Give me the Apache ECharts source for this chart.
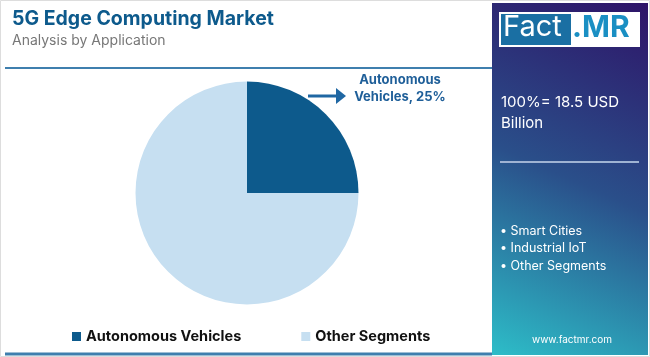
<!DOCTYPE html>
<html><head><meta charset="utf-8">
<script src="https://cdn.jsdelivr.net/npm/echarts@6/dist/echarts.min.js"></script>
<style>html,body{margin:0;padding:0;background:#fff}#c{width:650px;height:357px}</style>
</head><body><div id="c"></div>
<script>
const categories = ["Autonomous Vehicles", "Other Segments"];
const shares = [25, 75];
const colors = ["#0d5a8c", "#c6dff1"];
const panelTotal = "100%= 18.5 USD\nBillion";
const panelBullets = ["• Smart Cities", "• Industrial IoT", "• Other Segments"];
const titleText = "5G Edge Computing Market";
const subtitleText = "Analysis by Application";
const calloutText = "Autonomous\nVehicles, 25%";
const FONT = "Inter, 'Noto Sans', sans-serif";

const chart = echarts.init(document.getElementById('c'), null, {renderer: 'canvas'});
chart.setOption({
  animation: false,
  title: {
    text: titleText, subtext: subtitleText, left: 7, top: 4, itemGap: 5,
    textStyle: {fontFamily: FONT, fontSize: 19.5, fontWeight: 'bold', color: '#0d5a8c'},
    subtextStyle: {fontFamily: FONT, fontSize: 14, color: '#777'}
  },
  legend: {
    data: categories, left: 67, top: 324, itemWidth: 9, itemHeight: 9, itemGap: 60,
    icon: 'rect',
    textStyle: {fontFamily: FONT, fontSize: 14.5, fontWeight: 'bold', color: '#111'}
  },
  graphic: [
    {type: 'rect', shape: {x: 0.5, y: 0.5, width: 649, height: 356}, style: {fill: 'none', stroke: '#ddd', lineWidth: 1}, z: -1},
    {type: 'line', shape: {x1: 5, y1: 68, x2: 492, y2: 68}, style: {stroke: '#3f7fae', lineWidth: 2}},
    {type: 'line', shape: {x1: 5, y1: 354, x2: 492, y2: 354}, style: {stroke: '#3f7fae', lineWidth: 3}},
    {type: 'rect', shape: {x: 492, y: 3, width: 156, height: 352},
      style: {fill: new echarts.graphic.LinearGradient(1, 0, 0, 1, [
        {offset: 0, color: '#2e1468'}, {offset: 0.5, color: '#2a4f8a'}, {offset: 1, color: '#2dbdc8'}])}},
    {type: 'rect', shape: {x: 499, y: 12, width: 141, height: 35}, style: {fill: '#fff'}},
    {type: 'rect', shape: {x: 501, y: 14, width: 70, height: 31}, style: {fill: '#1a6fa3'}},
    {type: 'text', x: 503, y: 13, style: {text: 'Fact', fontFamily: FONT, fontSize: 29, fill: '#fff'}},
    {type: 'text', x: 572, y: 13, style: {text: '.MR', fontFamily: FONT, fontSize: 30, fontWeight: 'bold', fill: '#1a8fc3'}},
    {type: 'text', x: 501, y: 92, style: {text: panelTotal, fontFamily: FONT, fontSize: 15, lineHeight: 21, fill: '#fff'}},
    {type: 'line', shape: {x1: 500, y1: 162, x2: 639, y2: 162}, style: {stroke: '#9fb3d3', lineWidth: 2}},
    {type: 'text', x: 500, y: 222, style: {text: panelBullets.join('\n'), fontFamily: FONT, fontSize: 12.5, lineHeight: 17.5, fill: '#fff'}},
    {type: 'text', x: 572, y: 340, style: {text: 'www.factmr.com', fontFamily: FONT, fontSize: 10, fill: '#fff', align: 'center', verticalAlign: 'middle'}},
    {type: 'line', shape: {x1: 308, y1: 96, x2: 337, y2: 96}, style: {stroke: '#1f67a3', lineWidth: 3}},
    {type: 'polygon', shape: {points: [[336, 88], [346, 96], [336, 104]]}, style: {fill: '#1f67a3'}},
    {type: 'text', x: 400, y: 89, style: {text: calloutText, fontFamily: FONT, fontSize: 13, fontWeight: 'bold', lineHeight: 17, fill: '#1f5f99', align: 'center', verticalAlign: 'middle'}}
  ],
  series: [{
    type: 'pie', center: [247, 193], radius: [0, 111.5], startAngle: 90, clockwise: true,
    label: {show: false}, labelLine: {show: false},
    itemStyle: {borderWidth: 0},
    data: categories.map((n, i) => ({name: n, value: shares[i], itemStyle: {color: colors[i]}}))
  }]
});
</script></body></html>
